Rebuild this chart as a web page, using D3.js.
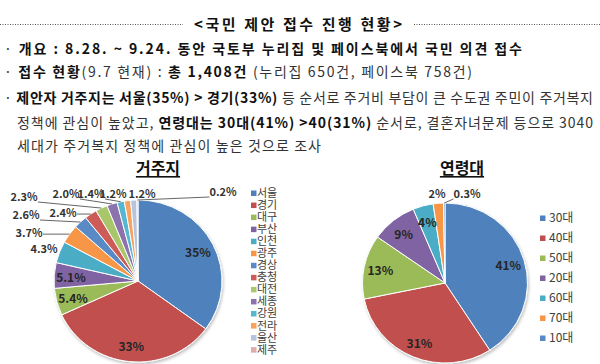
<!DOCTYPE html>
<html>
<head>
<meta charset="utf-8">
<script src="https://cdn.jsdelivr.net/npm/d3@7"></script>
<style>
  body { margin: 0; background: #fff; }
  svg { display: block; font-family: "Noto Sans CJK KR", "Noto Sans", sans-serif; writing-mode: horizontal-tb; }
</style>
</head>
<body>
<svg id="chart" width="600" height="364"></svg>
<script>
// ---- data ----
const regionNames = ["서울", "경기", "대구", "부산", "인천", "광주", "경상", "충청", "대전", "세종", "강원", "전라", "울산", "제주"];
const regionShares = [35, 33, 5.4, 5.1, 4.3, 3.7, 2.6, 2.4, 2.3, 2.0, 1.4, 1.2, 1.2, 0.2];
const ageNames = ["30대", "40대", "50대", "20대", "60대", "70대", "10대"];
const ageShares = [41, 31, 13, 9, 4, 2, 0.3];

const headerTitle = "<국민 제안 접수 진행 현황>";
// each line: list of [text, bold]
const bodyLines = [
  [["· ", false], ["개요 : 8.28. ~ 9.24. 동안 국토부 누리집 및 페이스북에서 국민 의견 접수", true]],
  [["· ", false], ["접수 현황", true], ["(9.7 현재) : ", false], ["총 1,408건", true], [" (누리집 650건, 페이스북 758건)", false]],
  [["· ", false], ["제안자 거주지는 서울(35%) > 경기(33%)", true], [" 등 순서로 주거비 부담이 큰 수도권 주민이 주거복지", false]],
  [["정책에 관심이 높았고, ", false], ["연령대는 30대(41%) >40(31%)", true], [" 순서로, 결혼자녀문제 등으로 3040", false]],
  [["세대가 주거복지 정책에 관심이 높은 것으로 조사", false]]
];

// ---- styles / layout ----
const palette = ["#4f81bd", "#c0504d", "#9bbb59", "#8064a2", "#4bacc6", "#f79646",
                 "#5a8ac6", "#cd5b58", "#a9c76b", "#8d73ad", "#55b8d2", "#f9a25e", "#b7c4dd", "#dcadac"];
const lineBoxes = [
  { x: 4, y: 48, w: 518 },
  { x: 4, y: 71, w: 468 },
  { x: 4, y: 97, w: 589 },
  { x: 17, y: 122, w: 576 },
  { x: 17, y: 145, w: 304 }
];

const svg = d3.select("#chart");

const defs = svg.append("defs");
defs.append("filter").attr("id", "shadow")
  .attr("x", "-10%").attr("y", "-10%").attr("width", "125%").attr("height", "125%")
  .append("feDropShadow")
  .attr("dx", 1).attr("dy", 2).attr("stdDeviation", 1.5)
  .attr("flood-color", "#000").attr("flood-opacity", 0.25);

// ---- header ----
svg.append("text")
  .attr("x", 298).attr("y", 23)
  .attr("text-anchor", "middle").attr("dominant-baseline", "central")
  .attr("font-size", 15).attr("font-weight", 700).attr("fill", "#111")
  .attr("textLength", 208).attr("lengthAdjust", "spacing")
  .text(headerTitle);

[[0, 183], [414, 600]].forEach(([x1, x2]) => {
  svg.append("line")
    .attr("x1", x1).attr("x2", x2).attr("y1", 24.5).attr("y2", 24.5)
    .attr("stroke", "#555").attr("stroke-width", 1)
    .attr("stroke-dasharray", "1,1.5");
});

bodyLines.forEach((parts, i) => {
  const box = lineBoxes[i];
  const t = svg.append("text")
    .attr("x", box.x).attr("y", box.y)
    .attr("dominant-baseline", "central")
    .attr("font-size", 14)
    .attr("textLength", box.w).attr("lengthAdjust", "spacing");
  parts.forEach(([s, bold]) => {
    t.append("tspan")
      .attr("font-weight", bold ? 700 : 400)
      .attr("fill", bold ? "#111" : "#333")
      .text(s);
  });
});

// ---- pies ----
function drawPie(opts) {
  const { names, values, cx, cy, rx, ry, fmt, title, titleX, outside, legend } = opts;
  const pie = d3.pie().sort(null).value(d => d)(values);
  const arc = d3.arc().innerRadius(0).outerRadius(rx);
  const color = d3.scaleOrdinal().domain(names).range(palette);

  svg.append("text")
    .attr("x", titleX).attr("y", 167)
    .attr("text-anchor", "middle").attr("dominant-baseline", "central")
    .attr("font-size", 16).attr("font-weight", 700).attr("fill", "#111")
    .style("text-decoration", "underline")
    .text(title);

  svg.append("g")
    .attr("transform", `translate(${cx},${cy}) scale(1,${ry / rx})`)
    .attr("filter", "url(#shadow)")
    .selectAll("path")
    .data(pie)
    .join("path")
    .attr("d", arc)
    .attr("fill", (d, i) => color(names[i]))
    .attr("stroke", "#fff")
    .attr("stroke-width", 1)
    .attr("vector-effect", "non-scaling-stroke");

  const edge = (d, k) => {
    const a = (d.startAngle + d.endAngle) / 2;
    return [cx + k * rx * Math.sin(a), cy - k * ry * Math.cos(a)];
  };

  const lab = svg.append("g").attr("font-weight", 700).attr("fill", "#262626");

  pie.forEach((d, i) => {
    const off = outside[i];
    if (!off) {
      const [x, y] = edge(d, 0.8);
      lab.append("text")
        .attr("x", x).attr("y", y)
        .attr("text-anchor", "middle").attr("dominant-baseline", "central")
        .attr("font-size", 12)
        .text(fmt(values[i]));
      return;
    }
    const lx = cx + off[0], ly = cy + off[1];
    const t = lab.append("text")
      .attr("x", lx).attr("y", ly)
      .attr("text-anchor", "middle").attr("dominant-baseline", "central")
      .attr("font-size", 11)
      .attr("fill", "#333")
      .text(fmt(values[i]));
    const bb = t.node().getBBox();
    const [px, py] = edge(d, 1);
    const ax = Math.max(bb.x, Math.min(bb.x + bb.width, px));
    const ay = Math.max(bb.y + 2, Math.min(bb.y + bb.height - 2, py));
    if (Math.hypot(px - ax, py - ay) > 7) {
      lab.append("line")
        .attr("x1", ax).attr("y1", ay).attr("x2", px).attr("y2", py)
        .attr("stroke", "#666").attr("stroke-width", 1);
    }
  });

  const lg = svg.append("g")
    .attr("transform", `translate(${legend.x},${legend.y})`)
    .attr("fill", "#404040");
  names.forEach((n, i) => {
    const y = i * legend.step;
    lg.append("rect")
      .attr("x", 0).attr("y", y - 2.5).attr("width", 5.5).attr("height", 5.5)
      .attr("fill", color(n));
    lg.append("text")
      .attr("x", legend.gap).attr("y", y + legend.size * 0.36)
      .style("font-size", legend.size + "px")
      .text(n);
  });
}

drawPie({
  names: regionNames,
  values: regionShares,
  cx: 138, cy: 281, rx: 84, ry: 81,
  fmt: v => (v >= 10 ? v : v.toFixed(1)) + "%",
  title: "거주지", titleX: 158,
  outside: { 4: [-94, -33], 5: [-109, -49], 6: [-112, -67], 7: [-75, -69], 8: [-114, -85],
             9: [-72, -88], 10: [-47, -88], 11: [-25, -88], 12: [4, -88], 13: [85, -90] },
  legend: { x: 251, y: 193, step: 12.05, size: 11, gap: 6 }
});

drawPie({
  names: ageNames,
  values: ageShares,
  cx: 445, cy: 283, rx: 82.5, ry: 80,
  fmt: v => v + "%",
  title: "연령대", titleX: 462,
  outside: { 5: [-8, -90], 6: [22, -90] },
  legend: { x: 540, y: 218, step: 20, size: 12, gap: 9 }
});
</script>
</body>
</html>
